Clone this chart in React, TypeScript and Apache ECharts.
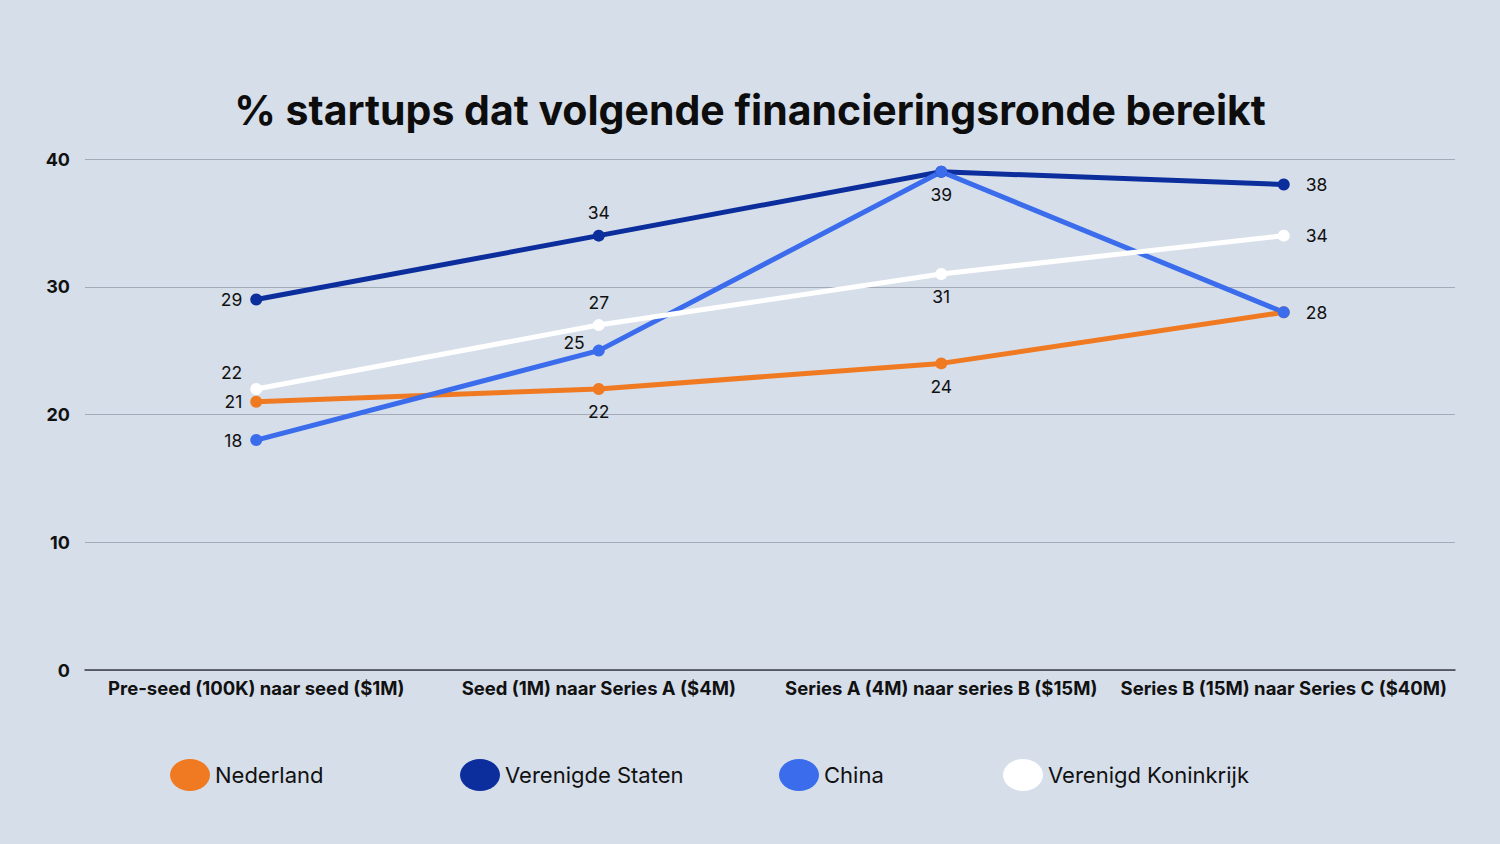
import React, { useEffect, useRef } from "react";
import * as echarts from "echarts";

const categories = [
  "Pre-seed (100K) naar seed ($1M)",
  "Seed (1M) naar Series A ($4M)",
  "Series A (4M) naar series B ($15M)",
  "Series B (15M) naar Series C ($40M)",
];
const nederland = [21, 22, 24, 28];
const verenigdeStaten = [29, 34, 39, 38];
const china = [18, 25, 39, 28];
const verenigdKoninkrijk = [22, 27, 31, 34];
const yTicks = [0, 10, 20, 30, 40];

type LP = { pos: string | null; off?: number[] };
const nlLabels: LP[] = [{ pos: "left" }, { pos: "bottom" }, { pos: "bottom" }, { pos: null }];
const vsLabels: LP[] = [{ pos: "left" }, { pos: "top" }, { pos: null }, { pos: "right" }];
const cnLabels: LP[] = [{ pos: "left" }, { pos: "left", off: [0, -8] }, { pos: "bottom" }, { pos: "right" }];
const vkLabels: LP[] = [{ pos: "left", off: [0, -16] }, { pos: "top" }, { pos: "bottom" }, { pos: "right" }];

const FONT = "Inter, 'Noto Sans', sans-serif";

function buildData(values: number[], labels: LP[]) {
  return values.map((v, i) => {
    const l = labels[i];
    if (!l.pos) return { value: v, label: { show: false } };
    return {
      value: v,
      label: {
        show: true,
        position: l.pos,
        offset: l.off || [0, 0],
        distance: l.pos === "right" ? 16 : 8,
      },
    };
  });
}

export default function App() {
  const ref = useRef<HTMLDivElement>(null);
  useEffect(() => {
    if (!ref.current) return;
    document.body.style.margin = "0";
    document.body.style.background = "#d6deea";
    const chart = echarts.init(ref.current, undefined, { renderer: "svg" });
    const seriesDefs = [
      { name: "Nederland", color: "#f07a22", data: buildData(nederland, nlLabels) },
      { name: "Verenigde Staten", color: "#0b2e9c", data: buildData(verenigdeStaten, vsLabels) },
      { name: "China", color: "#3a6cec", data: buildData(china, cnLabels) },
      { name: "Verenigd Koninkrijk", color: "#ffffff", data: buildData(verenigdKoninkrijk, vkLabels) },
    ];
    const legendLefts = [165, 455, 774, 998];
    const ellipse = "path://M0,16 A20,16 0 1,1 40,16 A20,16 0 1,1 0,16 Z";
    chart.setOption({
      animation: false,
      backgroundColor: "#d6deea",
      title: {
        text: "% startups dat volgende financieringsronde bereikt",
        left: "center",
        top: 84,
        textStyle: { fontFamily: FONT, fontSize: 41, fontWeight: "bold", color: "#0d0d0d" },
      },
      legend: seriesDefs.map((s, i) => ({
        data: [{ name: s.name, icon: ellipse }],
        left: legendLefts[i],
        top: 754,
        itemWidth: 40,
        itemHeight: 32,
        itemGap: 6,
        textStyle: { fontFamily: FONT, fontSize: 22, color: "#111" },
        selectedMode: false,
      })),
      grid: { left: 85, right: 45, top: 159, bottom: 174, containLabel: false },
      xAxis: {
        type: "category",
        data: categories,
        boundaryGap: true,
        axisLine: { lineStyle: { color: "#3a3f4a", width: 1.5 } },
        axisTick: { show: false },
        axisLabel: {
          fontFamily: FONT,
          fontSize: 18.5,
          fontWeight: "bold",
          color: "#111",
          margin: 8,
          interval: 0,
        },
      },
      yAxis: {
        type: "value",
        min: yTicks[0],
        max: yTicks[yTicks.length - 1],
        interval: 10,
        axisLabel: {
          fontFamily: FONT,
          fontSize: 18,
          fontWeight: "bold",
          color: "#111",
          margin: 15,
        },
        splitLine: { lineStyle: { color: "#a4abb8", width: 1.2 } },
      },
      series: seriesDefs.map((s) => ({
        name: s.name,
        type: "line",
        data: s.data,
        symbol: "circle",
        symbolSize: 12,
        lineStyle: { color: s.color, width: 5 },
        itemStyle: { color: s.color },
        label: { fontFamily: FONT, fontSize: 17.5, color: "#111" },
        emphasis: { disabled: true },
      })),
    });
    return () => chart.dispose();
  }, []);
  return <div ref={ref} style={{ position: "fixed", left: 0, top: 0, width: 1500, height: 844 }} />;
}
